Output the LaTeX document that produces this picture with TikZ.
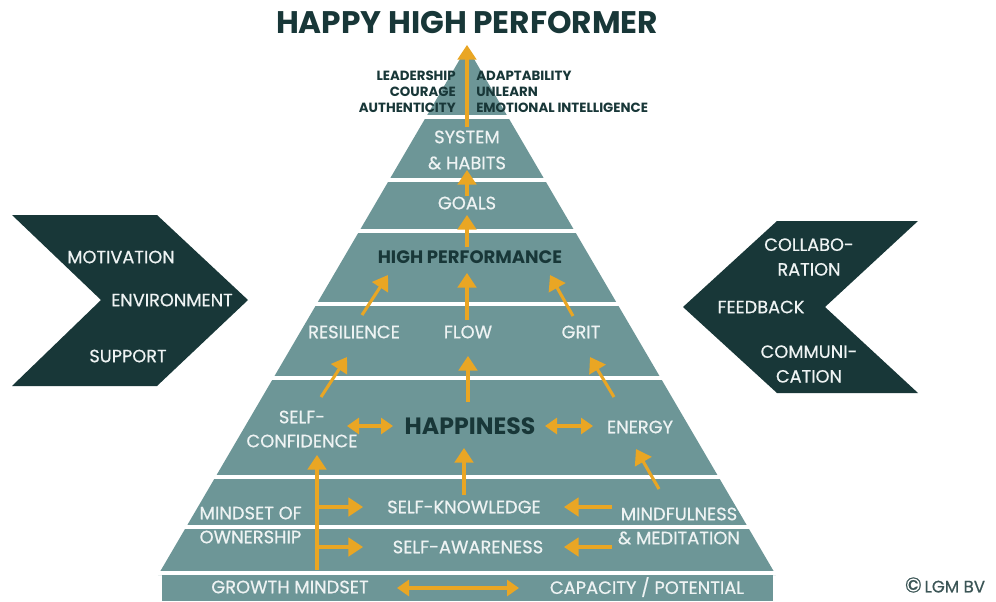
\documentclass[tikz,border=0pt]{standalone}
\usepackage{fontspec}
\setmainfont{Poppins}
\newfontface\lblface{Poppins}[FakeBold=0.6]
\usetikzlibrary{arrows.meta}

\definecolor{pyr}{RGB}{109,150,151}
\definecolor{dark}{RGB}{24,55,56}
\definecolor{orng}{RGB}{233,166,36}
\definecolor{lite}{RGB}{238,243,243}

\begin{document}
\begin{tikzpicture}[x=0.75pt,y=-0.75pt,
    lbl/.style={text=lite,font=\lblface\fontsize{13.4}{18}\selectfont,align=center,inner sep=1pt},
    side/.style={lbl,font=\lblface\fontsize{13.3}{18.5}\selectfont},
    boldlbl/.style={text=dark,font=\bfseries\fontsize{13.5}{14}\selectfont,inner sep=1pt},
    virt/.style={text=dark,font=\bfseries\fontsize{10}{12}\selectfont,inner sep=0pt},
    arr/.style={draw=orng,line width=2.3pt,-{Triangle[length=11pt,width=14pt]}},
    dbl/.style={draw=orng,line width=2.3pt,{Triangle[length=9pt,width=12pt]}-{Triangle[length=9pt,width=12pt]}}]
    \useasboundingbox[fill=white] (0,0) rectangle (996,601);

    % pyramid and its bands
    \fill[pyr] (467,47) -- (775.9,575) -- (158.1,575) -- cycle;
    \fill[pyr] (162,575) rectangle (773,601);
    \foreach \y in {117,180,231,304,378,477,527,573}
        \draw[white,line width=2.5pt] ({467-0.585*(\y-47)-3},\y) -- ({467+0.585*(\y-47)+3},\y);

    % chevrons
    \fill[dark] (12,215) -- (157,215) -- (248,300) -- (157,386) -- (12,386) -- (101,300) -- cycle;
    \fill[dark] (777,221) -- (918,221) -- (825,307) -- (918,393) -- (777,393) -- (683,307) -- cycle;

    % title and top qualities
    \node[boldlbl,font=\bfseries\fontsize{23.4}{26}\selectfont] (title) at (467,22) {HAPPY HIGH PERFORMER};
    \node[virt,align=right,anchor=east] (virtl) at (456,92) {LEADERSHIP\\COURAGE\\AUTHENTICITY};
    \node[virt,align=left,anchor=west] (virtr) at (476,92) {ADAPTABILITY\\UNLEARN\\EMOTIONAL INTELLIGENCE};

    % pyramid labels
    \node[lbl,font=\lblface\fontsize{13.4}{19.5}\selectfont] (system) at (467,150) {SYSTEM\\\& HABITS};
    \node[lbl] (goals) at (467,203) {GOALS};
    \node[boldlbl] (highperf) at (470,257) {HIGH PERFORMANCE};
    \node[lbl] (resil) at (354,332) {RESILIENCE};
    \node[lbl] (flow) at (468,332) {FLOW};
    \node[lbl] (grit) at (581,332) {GRIT};
    \node[lbl] (conf) at (302,429) {SELF-\\CONFIDENCE};
    \node[boldlbl,font=\bfseries\fontsize{17.7}{20}\selectfont] (happy) at (470,426) {HAPPINESS};
    \node[lbl] (energy) at (640,427) {ENERGY};
    \node[lbl,align=left,anchor=west] (owner) at (198,525) {MINDSET OF\\OWNERSHIP};
    \node[lbl] (selfknow) at (464,507) {SELF-KNOWLEDGE};
    \node[lbl] (selfaware) at (468,547) {SELF-AWARENESS};
    \node[lbl] (mindful) at (679,526) {MINDFULNESS\\\& MEDITATION};
    \node[lbl] (growth) at (290,587) {GROWTH MINDSET};
    \node[lbl] (capacity) at (647,587) {CAPACITY / POTENTIAL};

    % chevron labels
    \node[side] (motiv) at (121,257) {MOTIVATION};
    \node[side] (envir) at (172,300) {ENVIRONMENT};
    \node[side] (support) at (128,356) {SUPPORT};
    \node[side] (collab) at (809,257) {COLLABO-\\RATION};
    \node[side] (feedback) at (761,307) {FEEDBACK};
    \node[side] (commun) at (809,364) {COMMUNI-\\CATION};

    \node[text=dark!85,font=\lblface\fontsize{12.5}{14}\selectfont,inner sep=0pt] (copy) at (945,585) {{\fontsize{16}{16}\selectfont ©}\,LGM BV};

    % arrow ends
    \coordinate (peak) at (467,45);
    \coordinate (sysfoot) at (467,127);
    \coordinate (stem) at (317,570);
    \coordinate (stemk) at (317,507);
    \coordinate (stema) at (317,547);

    % arrows
    \draw[arr] (sysfoot) -- (peak);
    \draw[arr] (467,196) -- (467,170);
    \draw[arr] (467,247) -- (467,215);
    \draw[arr] (362,315) -- (388,275);
    \draw[arr] (467,320) -- (467,273);
    \draw[arr] (573,316) -- (550,275);
    \draw[arr] (321,397) -- (347,357);
    \draw[arr] (468,402) -- (468,356);
    \draw[arr] (614,397) -- (590,357);
    \draw[dbl] (347,426) -- (393,426);
    \draw[dbl] (545,426) -- (593,426);
    \draw[arr] (stem) -- (317,455);
    \draw[arr] (stemk) -- (363,507);
    \draw[arr] (stema) -- (363,547);
    \draw[arr] (464,495) -- (464,448);
    \draw[arr] (612,507) -- (564,507);
    \draw[arr] (612,547) -- (564,547);
    \draw[arr] (659,489) -- (636,449);
    \draw[dbl] (397,588) -- (519,588);
\end{tikzpicture}
\end{document}
